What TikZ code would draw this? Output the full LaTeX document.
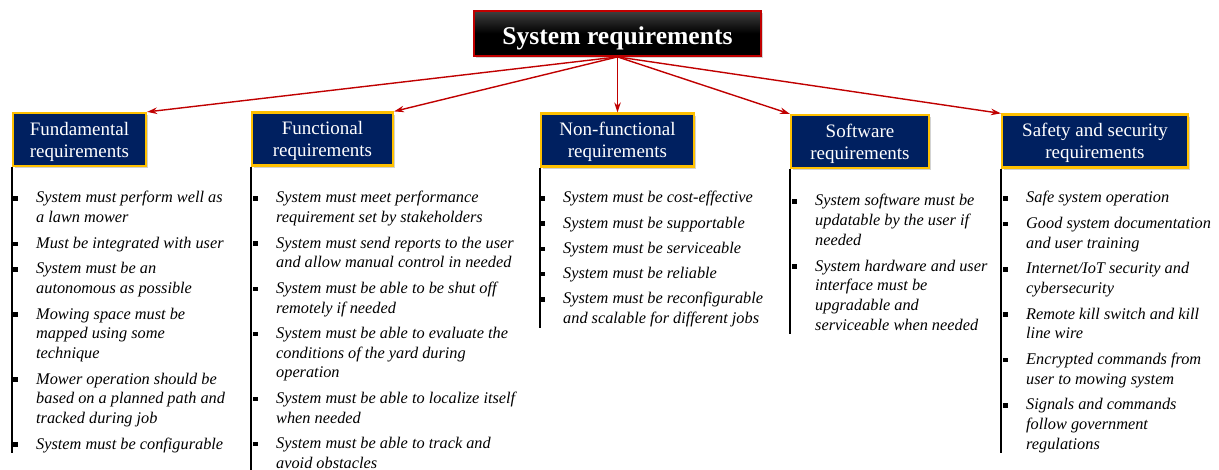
\documentclass[tikz,border=0pt]{standalone}
\usepackage{fontspec}
\setmainfont{Liberation Serif}
\usetikzlibrary{positioning,shadows,arrows.meta}
\definecolor{navy}{RGB}{0,32,96}
\definecolor{gold}{RGB}{255,192,0}
\definecolor{darkred}{RGB}{192,0,0}
\newcommand\reqlines[1]{\begin{tabular}[t]{@{}l@{}}#1\end{tabular}}
\newcommand\headlines[1]{\smash{\begin{tabular}[t]{@{}c@{}}#1\end{tabular}}}

\begin{document}
\begin{tikzpicture}[x=1pt,y=-1pt,
	titlebox/.style={draw=darkred,line width=1.8pt,top color=black!75,bottom color=black,middle color=black,text=white,font=\fontsize{25.6}{30}\selectfont\bfseries,minimum width=287pt,minimum height=45pt,text height=21pt,text depth=0pt,drop shadow={shadow xshift=2pt,shadow yshift=-2pt,opacity=0.35}},
	headbox/.style={draw=gold,line width=2.2pt,fill=navy,text=white,font=\fontsize{19}{22.3}\selectfont,minimum height=53pt,inner sep=2pt,text height=15pt,text depth=24pt,drop shadow={shadow xshift=2pt,shadow yshift=-2pt,opacity=0.35}},
	item/.style={inner sep=0pt,font=\fontsize{16.3}{19.7}\selectfont\itshape},
	bullet/.style={fill=black,inner sep=0pt,minimum size=4.5pt},
	stem/.style={line width=1.5pt},
	link/.style={draw=darkred,line width=1.4pt,-{Stealth[length=10pt,width=6.5pt]}}]
	\useasboundingbox (0,0) rectangle (1219,469);

	\node[titlebox] (sysreq) at (617.5,33.5) {System requirements};
	\node[headbox,minimum width=133pt] (fund) at (79.5,139.5) {\headlines{Fundamental\\requirements}};
	\node[headbox,minimum width=141pt] (func) at (322.5,139) {\headlines{Functional\\requirements}};
	\node[headbox,minimum width=153pt] (nonf) at (617.5,140) {\headlines{Non-functional\\requirements}};
	\node[headbox,minimum width=138pt] (soft) at (860,141.5) {\headlines{Software\\requirements}};
	\node[headbox,minimum width=186pt] (safe) at (1095,141) {\headlines{Safety and security\\requirements}};

	\foreach \tgt/\anc in {fund/north east,func/north east,nonf/north,soft/north west,safe/north west}
	\draw[link] (sysreq.south) -- (\tgt.\anc);

	% fundamental
	\node[item,anchor=north west] (fund-1) at (36,189) {\reqlines{System must perform well as\\a lawn mower}};
	\foreach \txt [count=\i from 2,remember=\i as \j (initially 1)] in {{Must be integrated with user},{System must be an\\autonomous as possible},{Mowing space must be\\mapped using some\\technique},{Mower operation should be\\based on a planned path and\\tracked during job},{System must be configurable}}
	\node[item,below=5.5pt of fund-\j.south west,anchor=north west] (fund-\i) {\reqlines{\txt}};
	\foreach \i in {1,...,6}
	\node[bullet] (fund-b\i) at ([xshift=-20.5pt,yshift=-9.5pt]fund-\i.north west) {};
	\draw[stem] (fund.south west) -- ([yshift=2pt]fund.south west |- fund-6.south);

	% functional
	\node[item,anchor=north west] (func-1) at (276,189) {\reqlines{System must meet performance\\requirement set by stakeholders}};
	\foreach \txt [count=\i from 2,remember=\i as \j (initially 1)] in {{System must send reports to the user\\and allow manual control in needed},{System must be able to be shut off\\remotely if needed},{System must be able to evaluate the\\conditions of the yard during\\operation},{System must be able to localize itself\\when needed},{System must be able to track and\\avoid obstacles}}
	\node[item,below=5.4pt of func-\j.south west,anchor=north west] (func-\i) {\reqlines{\txt}};
	\foreach \i in {1,...,6}
	\node[bullet] (func-b\i) at ([xshift=-20.5pt,yshift=-9.5pt]func-\i.north west) {};
	\draw[stem] (func.south west) -- ([yshift=2pt]func.south west |- func-6.south);

	% non-functional
	\node[item,anchor=north west] (nonf-1) at (563,189) {\reqlines{System must be cost-effective}};
	\foreach \txt [count=\i from 2,remember=\i as \j (initially 1)] in {{System must be supportable},{System must be serviceable},{System must be reliable},{System must be reconfigurable\\and scalable for different jobs}}
	\node[item,below=5.1pt of nonf-\j.south west,anchor=north west] (nonf-\i) {\reqlines{\txt}};
	\foreach \i in {1,...,5}
	\node[bullet] (nonf-b\i) at ([xshift=-20.5pt,yshift=-9.5pt]nonf-\i.north west) {};
	\draw[stem] (nonf.south west) -- ([yshift=2pt]nonf.south west |- nonf-5.south);

	% software
	\node[item,anchor=north west] (soft-1) at (815,192) {\reqlines{System software must be\\updatable by the user if\\needed}};
	\node[item,below=5.6pt of soft-1.south west,anchor=north west] (soft-2) {\reqlines{System hardware and user\\interface must be\\upgradable and\\serviceable when needed}};
	\foreach \i in {1,2}
	\node[bullet] (soft-b\i) at ([xshift=-20.5pt,yshift=-9.5pt]soft-\i.north west) {};
	\draw[stem] (soft.south west) -- ([yshift=2pt]soft.south west |- soft-2.south);

	% safety and security
	\node[item,anchor=north west] (safe-1) at (1026,189) {\reqlines{Safe system operation}};
	\foreach \txt [count=\i from 2,remember=\i as \j (initially 1)] in {{Good system documentation\\and user training},{Internet/IoT security and\\cybersecurity},{Remote kill switch and kill\\line wire},{Encrypted commands from\\user to mowing system},{Signals and commands\\follow government\\regulations}}
	\node[item,below=5.5pt of safe-\j.south west,anchor=north west] (safe-\i) {\reqlines{\txt}};
	\foreach \i in {1,...,6}
	\node[bullet] (safe-b\i) at ([xshift=-20.5pt,yshift=-9.5pt]safe-\i.north west) {};
	\draw[stem] (safe.south west) -- ([yshift=2pt]safe.south west |- safe-6.south);
\end{tikzpicture}
\end{document}
